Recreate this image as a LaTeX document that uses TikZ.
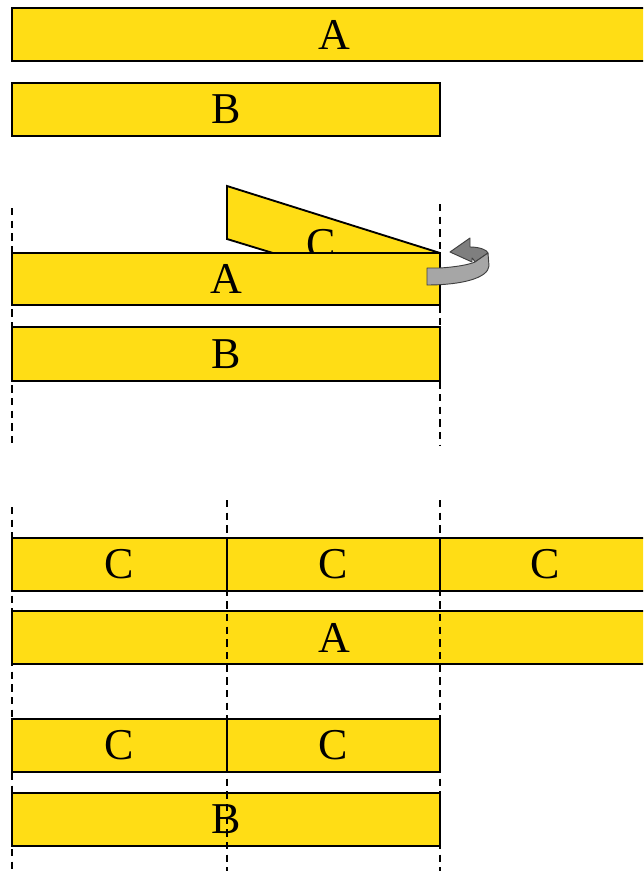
\documentclass[tikz,border=0pt]{standalone}
\usepackage{fontspec}
\setmainfont{Liberation Serif}
\definecolor{yel}{RGB}{255,221,21}
\definecolor{arrlight}{RGB}{166,166,166}
\definecolor{arrdark}{RGB}{127,127,127}
\begin{document}
\begin{tikzpicture}[x=0.75pt,y=-0.75pt,
  box/.style={draw=black, fill=yel, line width=1.4pt, inner sep=0pt, outer sep=0pt,
    font=\fontsize{33}{38}\selectfont},
  guide/.style={draw=black, line width=1pt, dash pattern=on 5.5pt off 4pt},
  lbl/.style={inner sep=0pt, font=\fontsize{33}{38}\selectfont}]
\useasboundingbox (0,0) rectangle (643,871);
\clip (0,0) rectangle (643,871);
% ---------- section 1 ----------
\node[box, minimum width={644*0.75pt}, minimum height={53*0.75pt}] (A1) at (334,34.5) {A};
\node[box, minimum width={428*0.75pt}, minimum height={53*0.75pt}] (B1) at (226,109.5) {B};
% ---------- section 2 ----------
\coordinate (g2lt) at (12,208);  \coordinate (g2lb) at (12,448);
\coordinate (g2rt) at (440,204); \coordinate (g2rb) at (440,445);
\draw[guide] (g2lt) -- (g2lb);
\draw[guide] (g2rt) -- (g2rb);
\filldraw[fill=yel, draw=black, line width=1.4pt, line join=miter]
  (227,186) -- (227,239) -- (440,304) -- (440,253) -- cycle;
\node[lbl] (Cw) at (321,244) {C};
\node[box, minimum width={428*0.75pt}, minimum height={52*0.75pt}] (A2) at (226,279) {A};
\node[box, minimum width={428*0.75pt}, minimum height={54*0.75pt}] (B2) at (226,354) {B};
% rotation arrow
\filldraw[fill=arrdark, draw=black!75, line width=0.7pt, line join=round]
  (470,247) .. controls (480,247) and (487,250) .. (488,253)
  -- (475,262) .. controls (474,260) and (473,259) .. (472,258)
  -- (472,262) -- (450,252) -- (470,238) -- cycle;
\filldraw[fill=arrlight, draw=black!75, line width=0.7pt, line join=round]
  (427,268) -- (440,268) .. controls (455,267) and (468,265) .. (475,262)
  -- (488,253) -- (489,266) .. controls (488,278) and (462,285) .. (427,285) -- cycle;
% ---------- section 3 ----------
\node[box, minimum width={215*0.75pt}, minimum height={53*0.75pt}] (C31) at (119.5,564.5) {C};
\node[box, minimum width={213*0.75pt}, minimum height={53*0.75pt}] (C32) at (333.5,564.5) {C};
\node[box, minimum width={210*0.75pt}, minimum height={53*0.75pt}] (C33) at (545,564.5) {C};
\node[box, minimum width={644*0.75pt}, minimum height={53*0.75pt}] (A3) at (334,637.5) {A};
\node[box, minimum width={215*0.75pt}, minimum height={53*0.75pt}] (C41) at (119.5,745.5) {C};
\node[box, minimum width={213*0.75pt}, minimum height={53*0.75pt}] (C42) at (333.5,745.5) {C};
\node[box, minimum width={428*0.75pt}, minimum height={53*0.75pt}] (B4) at (226,819.5) {B};
\coordinate (g3lt) at (12,507);  \coordinate (g3lb) at (12,871);
\coordinate (g3mt) at (227,500); \coordinate (g3mb) at (227,871);
\coordinate (g3rt) at (440,500); \coordinate (g3rb) at (440,871);
\draw[guide] (g3lt) -- (g3lb);
\draw[guide] (g3mt) -- (g3mb);
\draw[guide] (g3rt) -- (g3rb);
\end{tikzpicture}
\end{document}
